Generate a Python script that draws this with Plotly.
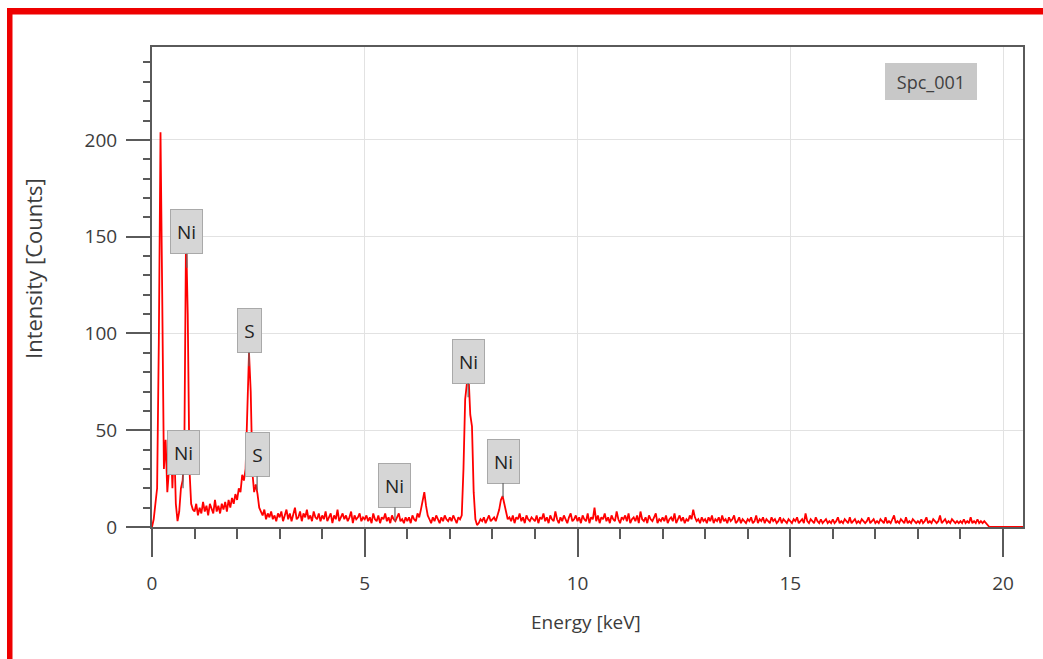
import plotly.graph_objects as go

# EDS spectrum: counts per channel, channel width in keV
channel_width_kev = 0.04
counts = [
    0, 4, 12, 20, 95, 204, 120, 30, 45, 18, 30, 48, 20, 45, 12, 3, 8, 20, 24, 40, 152, 110, 30, 12, 9,
    8, 12, 6, 10, 7, 13, 8, 11, 6, 12, 9, 7, 14, 8, 11, 7, 12, 9, 13, 8, 14, 10, 15, 12, 17,
    14, 20, 18, 27, 24, 30, 62, 90, 70, 28, 18, 22, 17, 10, 8, 6, 9, 4, 7, 5, 8, 4, 6, 3, 7,
    5, 8, 3, 6, 9, 4, 7, 3, 6, 10, 4, 5, 8, 3, 7, 5, 9, 4, 6, 3, 8, 5, 4, 7, 3,
    6, 4, 8, 3, 5, 7, 2, 6, 4, 9, 3, 5, 7, 4, 6, 3, 5, 8, 2, 6, 4, 5, 7, 3, 5,
    4, 6, 3, 5, 2, 7, 4, 3, 6, 2, 5, 4, 7, 3, 5, 2, 6, 4, 3, 5, 7, 3, 4, 2, 5,
    3, 5, 2, 6, 4, 3, 7, 5, 9, 14, 18, 11, 6, 4, 2, 5, 3, 6, 4, 2, 5, 3, 6, 4, 3,
    5, 3, 6, 4, 2, 5, 4, 6, 30, 66, 74, 78, 58, 52, 18, 4, 1, 2, 4, 3, 5, 2, 4, 6, 3,
    4, 5, 3, 6, 9, 14, 16, 12, 7, 4, 5, 3, 6, 2, 5, 4, 7, 3, 5, 2, 6, 4, 3, 5, 4,
    3, 6, 2, 5, 4, 7, 3, 5, 2, 6, 4, 3, 8, 4, 2, 5, 3, 6, 4, 2, 5, 7, 3, 4, 6,
    3, 5, 2, 6, 4, 3, 7, 2, 5, 4, 10, 3, 6, 2, 5, 4, 7, 3, 5, 2, 6, 4, 3, 8, 4,
    2, 5, 4, 6, 3, 7, 2, 4, 5, 3, 6, 2, 8, 4, 3, 5, 2, 6, 4, 3, 5, 7, 2, 4, 3,
    5, 3, 6, 2, 4, 5, 3, 7, 2, 4, 6, 3, 5, 2, 4, 3, 6, 4, 9, 5, 3, 4, 2, 5, 3,
    4, 2, 5, 3, 6, 2, 4, 3, 5, 2, 6, 3, 4, 2, 5, 3, 4, 6, 2, 3, 5, 2, 4, 3, 2,
    4, 3, 5, 2, 3, 6, 2, 4, 3, 5, 2, 4, 3, 2, 5, 3, 4, 2, 3, 5, 2, 4, 3, 2, 4,
    3, 2, 4, 3, 5, 2, 3, 4, 2, 7, 3, 2, 4, 3, 2, 5, 3, 2, 4, 2, 3, 4, 2, 3, 2,
    4, 2, 3, 5, 2, 3, 2, 4, 3, 2, 5, 2, 3, 4, 2, 3, 2, 4, 3, 2, 3, 5, 2, 3, 4,
    2, 3, 2, 4, 3, 2, 5, 2, 3, 2, 4, 6, 2, 3, 2, 4, 3, 2, 5, 2, 3, 2, 4, 3, 2,
    3, 2, 4, 2, 3, 5, 2, 3, 2, 4, 3, 2, 3, 6, 2, 3, 4, 2, 3, 2, 4, 3, 2, 3, 2,
    3, 2, 4, 2, 3, 2, 5, 2, 3, 2, 4, 2, 3, 2, 3, 2, 1, 0, 0, 0, 0, 0, 0, 0, 0,
    0, 0, 0, 0, 0, 0, 0, 0, 0, 0, 0, 0, 0,
]
energy_kev = [round(i * channel_width_kev, 2) for i in range(len(counts))]

# Element line markers
peak_labels = ["Ni", "Ni", "S", "S", "Ni", "Ni", "Ni"]
peak_energy = [0.82, 0.73, 2.28, 2.47, 5.71, 7.43, 8.25]
peak_counts = [134, 20, 83, 19, 3, 67, 15.5]

spectrum_name = "Spc_001"
x_title = "Energy [keV]"
y_title = "Intensity [Counts]"

axis_color = "#5a5a5a"
grid_color = "#e2e2e2"
text_color = "#3c3c3c"
font_family = "Open Sans, Noto Sans, sans-serif"

# plot area in pixels: left 152, right 1023, top 47, bottom 527
PL, PR, PT, PB = 152, 1023, 47, 527


def paper_x(px):
    return (px - PL) / (PR - PL)


def paper_y(py):
    return (PB - py) / (PB - PT)


fig = go.Figure()
fig.add_trace(go.Scatter(
    x=energy_kev, y=counts, mode="lines",
    line=dict(color="#ff0000", width=1.8),
    hoverinfo="skip", showlegend=False,
))

axis_common = dict(
    ticks="outside", tickwidth=2, tickcolor=axis_color,
    showline=True, linecolor=axis_color, linewidth=2, mirror=True,
    showgrid=True, gridcolor=grid_color, gridwidth=1, zeroline=False,
    tickfont=dict(family=font_family, size=19, color=text_color),
    layer="below traces",
)

fig.update_layout(
    width=1043, height=659,
    margin=dict(l=PL, r=1043 - PR, t=PT, b=659 - PB),
    paper_bgcolor="white", plot_bgcolor="white",
    font=dict(family=font_family, size=19, color=text_color),
    xaxis=dict(
        range=[0, 20.47], tick0=0, dtick=5, ticklen=28, ticklabelstandoff=10,
        minor=dict(tick0=0, dtick=1, ticks="outside", ticklen=10, tickwidth=2,
                   tickcolor=axis_color, showgrid=False),
        **axis_common,
    ),
    yaxis=dict(
        range=[0, 248], tick0=0, dtick=50, ticklen=24, ticklabelstandoff=5,
        minor=dict(tick0=0, dtick=10, ticks="outside", ticklen=7, tickwidth=2,
                   tickcolor=axis_color, showgrid=False),
        **axis_common,
    ),
)

annotations = []
for label, e, c in zip(peak_labels, peak_energy, peak_counts):
    annotations.append(dict(
        x=e, y=c, xref="x", yref="y", text=label,
        showarrow=True, arrowhead=0, arrowwidth=1.2, arrowcolor="#666666",
        ax=0, ay=-36,
        bgcolor="#d6d6d6", bordercolor="#a9a9a9", borderwidth=1, borderpad=3,
        width=25 if len(label) > 1 else 17, height=37,
        font=dict(family=font_family, size=19, color="#222222"),
    ))

annotations.append(dict(
    x=paper_x(931), y=paper_y(82), xref="paper", yref="paper",
    xanchor="center", yanchor="middle",
    text=spectrum_name, showarrow=False,
    bgcolor="#c8c8c8", borderwidth=0, borderpad=3, width=86, height=31,
    font=dict(family=font_family, size=18, color="#404040"),
))
annotations.append(dict(
    x=paper_x(586), y=paper_y(622), xref="paper", yref="paper",
    text=x_title, showarrow=False, xanchor="center", yanchor="middle",
    font=dict(family=font_family, size=19, color=text_color),
))
annotations.append(dict(
    x=paper_x(33), y=paper_y(268), xref="paper", yref="paper",
    text=y_title, showarrow=False, textangle=-90,
    xanchor="center", yanchor="middle",
    font=dict(family=font_family, size=22, color=text_color),
))
fig.update_layout(annotations=annotations)

# red outer frame (top and left edges)
frame_red = "#ee0000"
fig.add_shape(type="rect", xref="paper", yref="paper",
              x0=paper_x(7), x1=paper_x(1043), y0=paper_y(14.5), y1=paper_y(8),
              fillcolor=frame_red, line=dict(width=0), layer="above")
fig.add_shape(type="rect", xref="paper", yref="paper",
              x0=paper_x(7), x1=paper_x(12.5), y0=paper_y(659), y1=paper_y(8),
              fillcolor=frame_red, line=dict(width=0), layer="above")

fig.write_html("out.html")
